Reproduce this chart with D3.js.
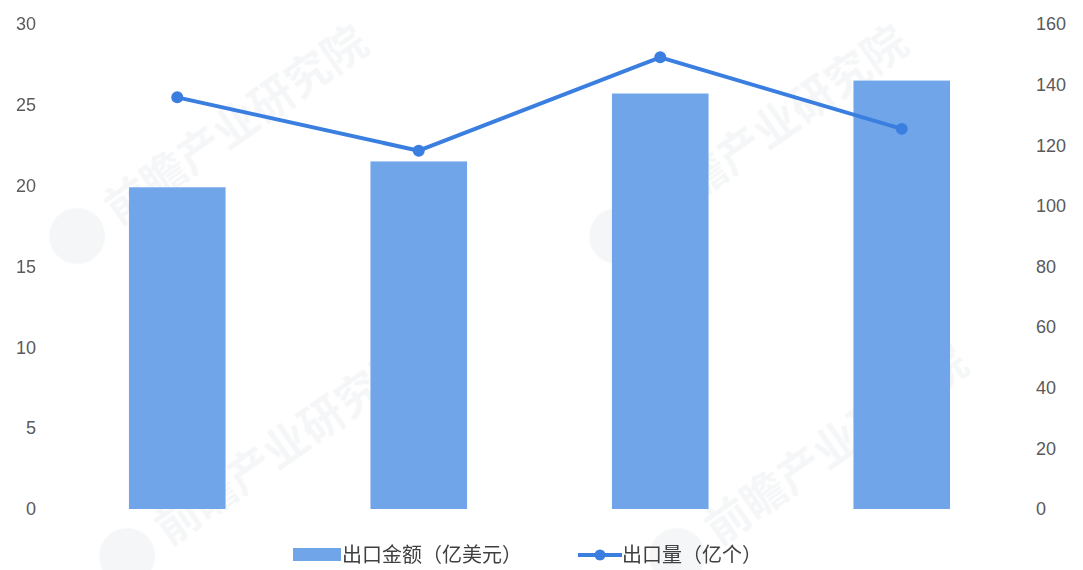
<!DOCTYPE html>
<html>
<head>
<meta charset="utf-8">
<script src="https://cdn.jsdelivr.net/npm/d3@7"></script>
<style>
  html, body { margin: 0; padding: 0; background: #fff; }
  svg { display: block; font-family: "Open Sans", "Noto Sans CJK SC", sans-serif; }
</style>
</head>
<body>
<svg id="chart" width="1083" height="570"></svg>
<script>
// Export data, four periods
const categories = ["P1", "P2", "P3", "P4"];
const exportValue = [19.9, 21.5, 25.7, 26.5];      // 出口金额（亿美元）
const exportVolume = [135.8, 118.2, 149.0, 125.4];  // 出口量（亿个）
const leftTicks = [0, 5, 10, 15, 20, 25, 30];
const rightTicks = [0, 20, 40, 60, 80, 100, 120, 140, 160];
const legendLabels = ["出口金额（亿美元）", "出口量（亿个）"];
const watermarkText = "前瞻产业研究院";

const svg = d3.select("#chart");
const plot = { left: 56.5, right: 1022.5, top: 24, bottom: 509 };

const barColor = "#71a5e9";
const lineColor = "#3a7fe0";
const textColor = "#5a5a5a";

// Faint background watermarks
const wm = svg.append("g").attr("fill", "#e3e6ea").attr("opacity", 0.35);
[[200, 150], [740, 150], [250, 470], [800, 470]].forEach(([x, y]) => {
  const g = wm.append("g").attr("transform", `translate(${x},${y}) rotate(-35)`);
  g.append("circle").attr("cx", -150).attr("cy", 0).attr("r", 28);
  g.append("text").attr("x", -110).attr("y", 16)
    .attr("font-size", 44).attr("font-family", "Noto Sans CJK SC")
    .attr("font-weight", "bold").text(watermarkText);
});

const x = d3.scaleBand()
  .domain(categories)
  .range([plot.left, plot.right])
  .paddingInner(0.6)
  .paddingOuter(0.3);

const yL = d3.scaleLinear().domain([0, 30]).range([plot.bottom, plot.top]);
const yR = d3.scaleLinear().domain([0, 160]).range([plot.bottom, plot.top]);

// Left axis
const axL = svg.append("g")
  .attr("transform", `translate(36,0)`)
  .call(d3.axisLeft(yL).tickValues(leftTicks).tickSize(0).tickPadding(0));
axL.select(".domain").remove();
axL.selectAll("text").attr("fill", textColor).attr("font-size", 18);

// Right axis
const axR = svg.append("g")
  .attr("transform", `translate(1036,0)`)
  .call(d3.axisRight(yR).tickValues(rightTicks).tickSize(0).tickPadding(0));
axR.select(".domain").remove();
axR.selectAll("text").attr("fill", textColor).attr("font-size", 18);

// Bars
svg.append("g").selectAll("rect")
  .data(exportValue)
  .join("rect")
  .attr("x", (d, i) => x(categories[i]))
  .attr("width", x.bandwidth())
  .attr("y", d => yL(d))
  .attr("height", d => yL(0) - yL(d))
  .attr("fill", barColor);

// Line
const cx = (i) => x(categories[i]) + x.bandwidth() / 2;
const line = d3.line().x((d, i) => cx(i)).y(d => yR(d));
svg.append("path")
  .datum(exportVolume)
  .attr("d", line)
  .attr("fill", "none")
  .attr("stroke", lineColor)
  .attr("stroke-width", 4)
  .attr("stroke-linejoin", "round");
svg.append("g").selectAll("circle")
  .data(exportVolume)
  .join("circle")
  .attr("cx", (d, i) => cx(i))
  .attr("cy", d => yR(d))
  .attr("r", 6)
  .attr("fill", lineColor);

// Legend
const lg = svg.append("g").attr("font-size", 20);
lg.append("rect").attr("x", 293).attr("y", 548).attr("width", 48).attr("height", 13).attr("fill", barColor);
lg.append("text").attr("x", 342).attr("y", 562).attr("fill", "#404040")
  .attr("font-family", "Noto Sans CJK SC").text(legendLabels[0]);
lg.append("line").attr("x1", 578).attr("x2", 622).attr("y1", 555).attr("y2", 555)
  .attr("stroke", lineColor).attr("stroke-width", 4);
lg.append("circle").attr("cx", 600).attr("cy", 555).attr("r", 5.5).attr("fill", lineColor);
lg.append("text").attr("x", 622).attr("y", 562).attr("fill", "#404040")
  .attr("font-family", "Noto Sans CJK SC").text(legendLabels[1]);
</script>
</body>
</html>
